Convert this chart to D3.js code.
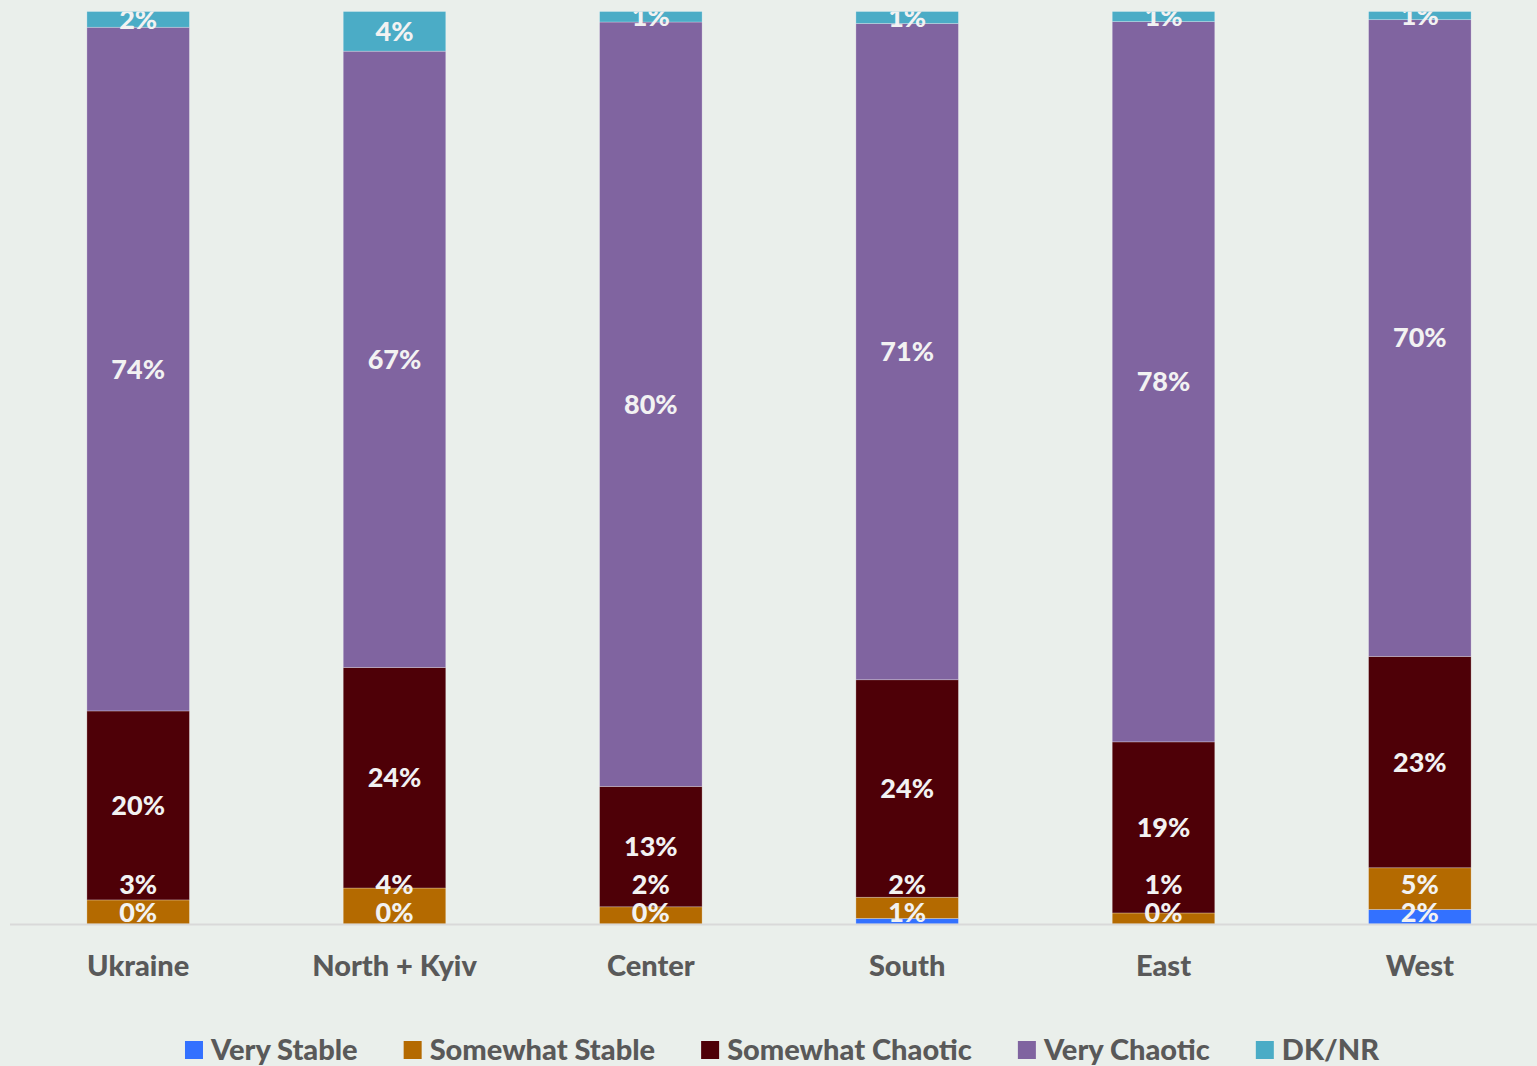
<!DOCTYPE html>
<html>
<head>
<meta charset="utf-8">
<script src="https://cdn.jsdelivr.net/npm/d3@7"></script>
<style>
  html, body { margin: 0; padding: 0; background: #EAEFEB; }
  svg { display: block; }
</style>
</head>
<body>
<svg id="chart" width="1537" height="1066"></svg>
<script>
// ---- data ----
const categories = ["Ukraine", "North + Kyiv", "Center", "South", "East", "West"];
const seriesNames = ["Very Stable", "Somewhat Stable", "Somewhat Chaotic", "Very Chaotic", "DK/NR"];
const veryStable      = [0.0, 0.0, 0.0, 0.6, 0.0, 1.6];
const somewhatStable  = [2.6, 3.9, 1.8, 2.3, 1.2, 4.6];
const somewhatChaotic = [20.4, 23.9, 12.6, 23.6, 18.6, 23.3];
const veryChaotic     = [73.8, 66.8, 80.0, 71.2, 78.3, 70.2];
const dkNr            = [1.7, 4.3, 1.1, 1.3, 1.1, 0.9];
const seriesColors = ["#3371FF", "#B46A00", "#4E0007", "#8064A0", "#4BACC6"];

const seriesValues = [veryStable, somewhatStable, somewhatChaotic, veryChaotic, dkNr];
const rows = categories.map((c, i) => {
  const r = { category: c };
  seriesNames.forEach((s, j) => r[s] = seriesValues[j][i]);
  return r;
});

const W = 1537, H = 1066;
const plot = { left: 10, right: 1548, top: 11.5, bottom: 924 };
const FONT = "Lato, 'Open Sans', sans-serif";
const svg = d3.select("#chart");
svg.append("rect").attr("width", W).attr("height", H).attr("fill", "#EAEFEB");

const x = d3.scaleBand().domain(categories).range([plot.left, plot.right]).paddingInner(0.6).paddingOuter(0.3);
const y = d3.scaleLinear().domain([0, 1]).range([plot.bottom, plot.top]);

const stack = d3.stack().keys(seriesNames).offset(d3.stackOffsetExpand);
const stacked = stack(rows);

svg.append("defs").append("clipPath").attr("id", "plotclip")
  .append("rect").attr("x", 0).attr("y", plot.top).attr("width", W).attr("height", plot.bottom - plot.top);

// bars
const g = svg.append("g");
stacked.forEach((layer, li) => {
  g.selectAll(null).data(layer).enter().append("rect")
    .attr("x", d => x(d.data.category))
    .attr("width", x.bandwidth())
    .attr("y", d => y(d[1]))
    .attr("height", d => Math.max(0, y(d[0]) - y(d[1])))
    .attr("fill", seriesColors[li])
    .attr("stroke", "rgba(255,255,255,0.35)")
    .attr("stroke-width", 0.75);
});

// axis line
svg.append("line").attr("x1", plot.left).attr("x2", W).attr("y1", plot.bottom + 0.5).attr("y2", plot.bottom + 0.5)
  .attr("stroke", "#D9D9D9").attr("stroke-width", 2);

// category axis
const xAxis = d3.axisBottom(x).tickSize(0).tickPadding(0);
const ax = svg.append("g").attr("transform", `translate(0,${plot.bottom})`).call(xAxis);
ax.select(".domain").remove();
ax.selectAll("text")
  .attr("y", 52).attr("dy", 0)
  .attr("fill", "#595959")
  .style("font-family", FONT)
  .style("font-weight", "900")
  .style("font-size", "29px");

// data labels
const lg = svg.append("g").attr("clip-path", "url(#plotclip)");
const fmt = v => Math.round(v) + "%";
categories.forEach((c, ci) => {
  let prev = null;
  stacked.forEach((layer, li) => {
    const d = layer[ci];
    const center = (y(d[0]) + y(d[1])) / 2;
    let ly = center;
    if (li < 3) {
      if (prev === null) ly = Math.min(center, plot.bottom - 11);
      else ly = Math.min(center, prev - 28);
      prev = ly;
    }
    lg.append("text")
      .attr("x", x(c) + x.bandwidth() / 2)
      .attr("y", ly)
      .attr("dy", "0.35em")
      .attr("text-anchor", "middle")
      .attr("fill", "#F2F2F2")
      .style("font-family", FONT)
      .style("font-weight", "900")
      .style("font-size", "27px")
      .text(fmt(seriesValues[li][ci]));
  });
});

// legend
const legend = svg.append("g");
const items = [];
let cx = 0;
const gap = 46;
seriesNames.forEach((s, i) => {
  const it = legend.append("g");
  it.append("rect").attr("x", 0).attr("y", -19).attr("width", 18).attr("height", 18).attr("fill", seriesColors[i]);
  const t = it.append("text").attr("x", 26).attr("y", 0)
    .attr("fill", "#595959")
    .style("font-family", FONT)
    .style("font-weight", "900")
    .style("font-size", "29px")
    .text(s);
  const w = 26 + t.node().getComputedTextLength();
  items.push({ it, x: cx });
  cx += w + gap;
});
const totalW = cx - gap;
const startX = 782 - totalW / 2;
items.forEach(o => o.it.attr("transform", `translate(${startX + o.x},1060)`));
</script>
</body>
</html>
